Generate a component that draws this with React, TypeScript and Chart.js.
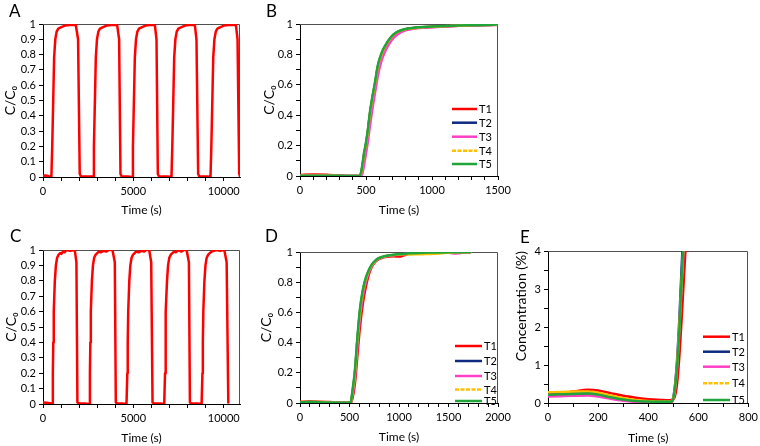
import React, { useEffect, useRef } from 'react';
import { Chart, registerables } from 'chart.js';

Chart.register(...registerables);

const FONT = 'Lato, "Open Sans", "DejaVu Sans", sans-serif';
Chart.defaults.font.family = FONT;

const SERIES_NAMES = ['T1', 'T2', 'T3', 'T4', 'T5'];
const SERIES_COLORS = ['#FF0000', '#0D2A80', '#FF40C4', '#FFC000', '#1FA53A'];
const SERIES_DASH: number[][] = [[], [], [], [4, 1.5], []];

// ---------- Panel A (cycles, T1 only) ----------
const A_TIME = [
  0, 150, 300, 420,
  464, 510, 565, 615, 680, 755, 845, 1015, 1215, 1500, 1812, 1941, 2033, 2100, 2400, 2700,
  2771, 2817, 2872, 2922, 2987, 3062, 3152, 3322, 3522, 3800, 4101, 4212, 4287, 4350, 4700,
  4930, 4976, 5031, 5081, 5146, 5221, 5311, 5481, 5681, 5900, 6188, 6280, 6354, 6420, 6900,
  7108, 7154, 7209, 7259, 7324, 7399, 7489, 7659, 7859, 8100, 8400, 8492, 8585, 8650, 9100,
  9268, 9314, 9369, 9419, 9484, 9559, 9649, 9819, 10019, 10300, 10672, 10764, 10856, 10900,
];
const A_VALUE = [
  0.008, 0.01, 0.006, 0.002,
  0, 0.2, 0.5, 0.78, 0.9, 0.95, 0.97, 0.98, 0.99, 0.993, 0.995, 0.9, 0.02, 0.004, 0.004, 0.004,
  0, 0.2, 0.5, 0.78, 0.9, 0.95, 0.97, 0.98, 0.99, 0.993, 0.995, 0.9, 0.02, 0.004, 0.004,
  0, 0.2, 0.5, 0.78, 0.9, 0.95, 0.97, 0.98, 0.99, 0.993, 0.995, 0.9, 0.02, 0.004, 0.004,
  0, 0.2, 0.5, 0.78, 0.9, 0.95, 0.97, 0.98, 0.99, 0.993, 0.995, 0.9, 0.02, 0.004, 0.004,
  0, 0.2, 0.5, 0.78, 0.9, 0.95, 0.97, 0.98, 0.99, 0.993, 0.995, 0.9, 0.02, 0.004,
];

// ---------- Panel C (cycles, T1 only) ----------
const C_TIME = [
  0, 200, 400,
  500, 545, 568, 595, 655, 713, 780, 865, 950, 1020, 1100, 1200, 1300, 1500, 1757, 1849, 1904, 2000, 2300,
  2551, 2596, 2619, 2646, 2706, 2764, 2831, 2916, 3000, 3100, 3200, 3350, 3500, 3650, 3844, 3973, 4029, 4100, 4400,
  4620, 4665, 4688, 4715, 4775, 4833, 4900, 4985, 5070, 5150, 5300, 5450, 5600, 5700, 5876, 5987, 6061, 6150, 6500,
  6707, 6752, 6775, 6802, 6862, 6920, 6987, 7072, 7160, 7250, 7350, 7500, 7650, 7800, 7944, 8073, 8129, 8200, 8550,
  8776, 8821, 8844, 8871, 8931, 8989, 9056, 9141, 9230, 9320, 9450, 9600, 9800, 10032, 10161, 10253,
];
const C_VALUE = [
  0.01, 0.008, 0.005,
  0, 0.2, 0.4, 0.6, 0.8, 0.9, 0.95, 0.97, 0.98, 0.975, 0.99, 0.985, 1.0, 0.995, 1.0, 0.92, 0.01, 0.004, 0.004,
  0, 0.2, 0.4, 0.6, 0.8, 0.9, 0.95, 0.97, 0.98, 0.99, 0.985, 0.995, 0.99, 1.0, 1.0, 0.92, 0.01, 0.004, 0.004,
  0, 0.2, 0.4, 0.6, 0.8, 0.9, 0.95, 0.97, 0.98, 0.99, 0.985, 0.995, 0.99, 1.0, 1.0, 0.92, 0.01, 0.004, 0.004,
  0, 0.2, 0.4, 0.6, 0.8, 0.9, 0.95, 0.97, 0.98, 0.99, 0.985, 1.0, 0.99, 1.0, 1.0, 0.92, 0.01, 0.004, 0.004,
  0, 0.2, 0.4, 0.6, 0.8, 0.9, 0.95, 0.97, 0.98, 0.99, 0.995, 1.0, 0.995, 1.0, 0.92, 0.01,
];

// ---------- Panel B ----------
const B_TIME = [0, 100, 200, 300, 400, 454, 470, 485, 500, 515, 530, 550, 567, 590, 618, 650, 680, 710, 744, 790, 832, 900, 1000, 1100, 1200, 1300, 1400, 1500];
const B_T1 = [0.006, 0.01, 0.008, 0.003, 0, 0, 0.04, 0.13, 0.2, 0.29, 0.4, 0.51, 0.59, 0.71, 0.79, 0.855, 0.895, 0.925, 0.948, 0.962, 0.97, 0.976, 0.981, 0.985, 0.989, 0.991, 0.993, 0.995];
const B_T2 = [0.002, 0.003, 0.003, 0.001, 0, 0, 0.05, 0.14, 0.21, 0.3, 0.41, 0.52, 0.6, 0.72, 0.8, 0.86, 0.9, 0.93, 0.95, 0.963, 0.97, 0.977, 0.982, 0.986, 0.989, 0.992, 0.994, 0.995];
const B_T3 = [0.003, 0.004, 0.004, 0.002, 0, 0, 0.01, 0.07, 0.15, 0.23, 0.33, 0.45, 0.54, 0.66, 0.76, 0.83, 0.875, 0.91, 0.935, 0.955, 0.964, 0.973, 0.979, 0.984, 0.988, 0.991, 0.993, 0.995];
const B_T4 = [0.002, 0.002, 0.002, 0.001, 0, 0, 0.05, 0.14, 0.21, 0.3, 0.41, 0.52, 0.6, 0.72, 0.8, 0.86, 0.9, 0.93, 0.95, 0.963, 0.97, 0.977, 0.982, 0.986, 0.989, 0.992, 0.994, 0.995];
const B_T5 = [0.002, 0.002, 0.002, 0.001, 0, 0, 0.06, 0.15, 0.22, 0.31, 0.42, 0.53, 0.61, 0.73, 0.81, 0.865, 0.905, 0.933, 0.952, 0.965, 0.972, 0.978, 0.983, 0.987, 0.99, 0.992, 0.994, 0.996];

// ---------- Panel D ----------
const D_TIME = [0, 100, 200, 300, 400, 500, 511, 530, 555, 578, 605, 635, 665, 695, 723, 760, 790, 830, 874, 941, 1000, 1050, 1109, 1200, 1300, 1400, 1500, 1550, 1600, 1650, 1720];
const D_T1 = [0.008, 0.01, 0.009, 0.006, 0.003, 0.001, 0, 0.03, 0.13, 0.3, 0.5, 0.66, 0.77, 0.85, 0.9, 0.935, 0.95, 0.962, 0.968, 0.972, 0.97, 0.978, 0.99, 0.997, 0.998, 0.998, 0.999, 0.999, 0.999, 0.999, 1.0];
const D_T2 = [0.005, 0.006, 0.005, 0.003, 0.002, 0.001, 0, 0.07, 0.2, 0.4, 0.6, 0.74, 0.82, 0.875, 0.91, 0.94, 0.955, 0.966, 0.973, 0.98, 0.984, 0.988, 0.99, 0.994, 0.996, 0.997, 0.998, 0.997, 0.996, 0.998, 0.999];
const D_T3 = [0.004, 0.005, 0.004, 0.003, 0.002, 0.001, 0, 0.05, 0.17, 0.36, 0.56, 0.71, 0.8, 0.865, 0.905, 0.938, 0.953, 0.965, 0.972, 0.978, 0.982, 0.986, 0.99, 0.993, 0.995, 0.996, 0.995, 0.99, 0.992, 0.996, 0.998];
const D_T4 = [0.006, 0.007, 0.006, 0.004, 0.002, 0.001, 0, 0.07, 0.2, 0.4, 0.6, 0.74, 0.82, 0.875, 0.91, 0.94, 0.955, 0.966, 0.973, 0.98, 0.983, 0.985, 0.984, 0.985, 0.987, 0.99, 0.995, 0.997, 0.998, 0.998, 0.999];
const D_T5 = [0.005, 0.006, 0.005, 0.003, 0.002, 0.001, 0, 0.08, 0.22, 0.42, 0.62, 0.75, 0.83, 0.88, 0.915, 0.943, 0.958, 0.968, 0.975, 0.981, 0.985, 0.988, 0.991, 0.994, 0.996, 0.997, 0.998, 0.998, 0.998, 0.999, 1.0];

// ---------- Panel E ----------
const E_TIME = [0, 50, 100, 160, 200, 250, 300, 350, 400, 450, 480, 495, 505, 515, 525, 535, 545, 555];
const E_T1 = [0.22, 0.25, 0.3, 0.35, 0.33, 0.26, 0.19, 0.14, 0.1, 0.08, 0.07, 0.08, 0.15, 0.5, 1.3, 2.4, 3.6, 4.8];
const E_T2 = [0.2, 0.21, 0.23, 0.25, 0.22, 0.16, 0.1, 0.06, 0.04, 0.03, 0.03, 0.06, 0.35, 1.1, 2.3, 3.8, 5.0, 6.0];
const E_T3 = [0.17, 0.18, 0.19, 0.2, 0.17, 0.11, 0.06, 0.03, 0.02, 0.01, 0.01, 0.03, 0.25, 0.9, 2.0, 3.3, 4.5, 5.5];
const E_T4 = [0.28, 0.29, 0.3, 0.3, 0.27, 0.2, 0.13, 0.08, 0.05, 0.04, 0.04, 0.06, 0.3, 1.0, 2.1, 3.4, 4.6, 5.5];
const E_T5 = [0.22, 0.23, 0.24, 0.25, 0.22, 0.15, 0.09, 0.05, 0.04, 0.03, 0.03, 0.05, 0.3, 0.95, 2.0, 3.5, 4.6, 5.5];

// ---------- Axis tick labels ----------
const CYCLE_X_LABELS = [0, 5000, 10000];
const CYCLE_Y_LABELS = [0, 0.1, 0.2, 0.3, 0.4, 0.5, 0.6, 0.7, 0.8, 0.9, 1];
const B_X_LABELS = [0, 500, 1000, 1500];
const D_X_LABELS = [0, 500, 1000, 1500, 2000];
const E_X_LABELS = [0, 200, 400, 600, 800];
const FRAC_Y_LABELS = [0, 0.2, 0.4, 0.6, 0.8, 1];
const E_Y_LABELS = [0, 1, 2, 3, 4];

interface AxisCfg { min: number; max: number; step: number; tickEnd: number; labels: number[] }
interface PanelCfg {
  letter: string; letterPos: [number, number];
  plot: { l: number; t: number; r: number; b: number };
  yW: number; xH: number; padR: number;
  x: AxisCfg; y: AxisCfg; yTitle: string; yTitleAlign: 'center' | 'end';
  time: number[]; series: number[][]; seriesIdx: number[];
  smooth: boolean;
  legend?: { x1: number; x2: number; ys: number[] };
}

const PAD_T = 12;

const PANELS: PanelCfg[] = [
  {
    letter: 'A', letterPos: [9, 2], plot: { l: 43, t: 24, r: 240, b: 177 }, yW: 41, xH: 40, padR: 20,
    x: { min: 0, max: 10900, step: 1000, tickEnd: 10000, labels: CYCLE_X_LABELS },
    y: { min: 0, max: 1, step: 0.1, tickEnd: 1, labels: CYCLE_Y_LABELS }, yTitle: 'C/C₀', yTitleAlign: 'center',
    time: A_TIME, series: [A_VALUE], seriesIdx: [0], smooth: false,
  },
  {
    letter: 'B', letterPos: [266, 2], plot: { l: 300, t: 24, r: 498, b: 176 }, yW: 39, xH: 41, padR: 20,
    x: { min: 0, max: 1500, step: 100, tickEnd: 1500, labels: B_X_LABELS },
    y: { min: 0, max: 1, step: 0.1, tickEnd: 1, labels: FRAC_Y_LABELS }, yTitle: 'C/C₀', yTitleAlign: 'center',
    time: B_TIME, series: [B_T1, B_T2, B_T3, B_T4, B_T5], seriesIdx: [0, 1, 2, 3, 4], smooth: true,
    legend: { x1: 452, x2: 477, ys: [109, 122.7, 136.7, 150.7, 164] },
  },
  {
    letter: 'C', letterPos: [10, 227], plot: { l: 43, t: 250, r: 240, b: 404 }, yW: 40, xH: 41, padR: 20,
    x: { min: 0, max: 10900, step: 1000, tickEnd: 10000, labels: CYCLE_X_LABELS },
    y: { min: 0, max: 1, step: 0.1, tickEnd: 1, labels: CYCLE_Y_LABELS }, yTitle: 'C/C₀', yTitleAlign: 'center',
    time: C_TIME, series: [C_VALUE], seriesIdx: [0], smooth: false,
  },
  {
    letter: 'D', letterPos: [265, 227], plot: { l: 300, t: 252, r: 498, b: 403 }, yW: 42, xH: 41, padR: 20,
    x: { min: 0, max: 2000, step: 100, tickEnd: 2000, labels: D_X_LABELS },
    y: { min: 0, max: 1, step: 0.1, tickEnd: 1, labels: FRAC_Y_LABELS }, yTitle: 'C/C₀', yTitleAlign: 'center',
    time: D_TIME, series: [D_T1, D_T2, D_T3, D_T4, D_T5], seriesIdx: [0, 1, 2, 3, 4], smooth: true,
    legend: { x1: 455, x2: 482, ys: [346, 361, 376, 389.5, 401] },
  },
  {
    letter: 'E', letterPos: [520, 228], plot: { l: 548, t: 251, r: 750, b: 403 }, yW: 35, xH: 42, padR: 12,
    x: { min: 0, max: 800, step: 100, tickEnd: 800, labels: E_X_LABELS },
    y: { min: 0, max: 4, step: 0.5, tickEnd: 4, labels: E_Y_LABELS }, yTitle: 'Concentration (%)', yTitleAlign: 'end',
    time: E_TIME, series: [E_T1, E_T2, E_T3, E_T4, E_T5], seriesIdx: [0, 1, 2, 3, 4], smooth: true,
    legend: { x1: 703, x2: 730, ys: [336.7, 351.7, 366.7, 383.3, 400] },
  },
];

function tickValues(a: AxisCfg): number[] {
  const out: number[] = [];
  const n = Math.round((a.tickEnd - a.min) / a.step);
  for (let i = 0; i <= n; i++) out.push(+(a.min + i * a.step).toFixed(6));
  return out;
}

function labelFor(a: AxisCfg, v: number): string {
  const hit = a.labels.find((l) => Math.abs(l - v) < 1e-6);
  return hit === undefined ? '' : String(hit);
}

const framePlugin = {
  id: 'frame',
  beforeDatasetsDraw(chart: any) {
    const { ctx, chartArea } = chart;
    const l = Math.round(chartArea.left);
    const t = Math.round(chartArea.top) + 0.5;
    const r = Math.round(chartArea.right) - 0.5;
    const b = Math.round(chartArea.bottom);
    ctx.save();
    ctx.strokeStyle = '#505050';
    ctx.lineWidth = 1;
    ctx.beginPath();
    ctx.moveTo(l, t);
    ctx.lineTo(r, t);
    ctx.lineTo(r, b);
    ctx.stroke();
    ctx.restore();
  },
};

const inlineLegendPlugin = {
  id: 'inlineLegend',
  afterDatasetsDraw(chart: any, _args: any, opts: any) {
    if (!opts || !opts.items) return;
    const { ctx } = chart;
    ctx.save();
    opts.items.forEach((it: any) => {
      ctx.strokeStyle = it.color;
      ctx.lineWidth = 2.5;
      ctx.setLineDash(it.dash || []);
      ctx.beginPath();
      ctx.moveTo(it.x1, it.y);
      ctx.lineTo(it.x2, it.y);
      ctx.stroke();
      ctx.setLineDash([]);
      ctx.fillStyle = '#000';
      ctx.font = `11px ${FONT}`;
      ctx.textBaseline = 'middle';
      ctx.textAlign = 'left';
      ctx.fillText(it.text, it.x2 + 2, it.y + 0.5);
    });
    ctx.restore();
  },
};

function geometry(cfg: PanelCfg) {
  const left = cfg.plot.l - cfg.yW;
  const top = cfg.plot.t - PAD_T;
  const width = cfg.yW + (cfg.plot.r - cfg.plot.l) + cfg.padR;
  const height = PAD_T + (cfg.plot.b - cfg.plot.t) + cfg.xH;
  return { left, top, width, height };
}

function Panel({ cfg }: { cfg: PanelCfg }) {
  const ref = useRef<HTMLCanvasElement>(null);
  const g = geometry(cfg);

  useEffect(() => {
    if (!ref.current) return;
    const datasets = cfg.series.map((vals, k) => {
      const si = cfg.seriesIdx[k];
      return {
        label: SERIES_NAMES[si],
        data: cfg.time.map((t, i) => ({ x: t, y: vals[i] })),
        borderColor: SERIES_COLORS[si],
        backgroundColor: SERIES_COLORS[si],
        borderWidth: 2.5,
        borderDash: SERIES_DASH[si],
        borderJoinStyle: 'round',
        borderCapStyle: 'round',
        pointRadius: 0,
        fill: false,
        tension: cfg.smooth ? 0.4 : 0,
        cubicInterpolationMode: cfg.smooth ? 'monotone' : 'default',
        order: cfg.series.length - 1 - k,
      };
    });
    const legendItems = cfg.legend
      ? cfg.seriesIdx.map((si, k) => ({
          x1: cfg.legend!.x1 - g.left,
          x2: cfg.legend!.x2 - g.left,
          y: cfg.legend!.ys[k] - g.top,
          color: SERIES_COLORS[si],
          dash: SERIES_DASH[si],
          text: SERIES_NAMES[si],
        }))
      : null;

    const axisCommon = (a: AxisCfg, isX: boolean) => ({
      type: 'linear' as const,
      min: a.min,
      max: a.max,
      afterBuildTicks: (scale: any) => {
        scale.ticks = tickValues(a).map((v) => ({ value: v }));
      },
      afterFit: (scale: any) => {
        if (isX) scale.height = cfg.xH;
        else scale.width = cfg.yW;
      },
      ticks: {
        autoSkip: false,
        maxRotation: 0,
        minRotation: 0,
        padding: isX ? 4 : 3,
        color: '#000',
        font: { family: FONT, size: 11 },
        callback: (v: any) => labelFor(a, Number(v)),
      },
      grid: {
        display: true,
        drawOnChartArea: false,
        drawTicks: true,
        tickLength: 4,
        tickColor: '#000',
        tickWidth: 1,
      },
      border: { display: true, color: '#000', width: 1 },
      title: {
        display: true,
        text: isX ? 'Time (s)' : cfg.yTitle,
        color: '#000',
        padding: 0,
        align: isX ? 'center' : cfg.yTitleAlign,
        font: { family: FONT, size: isX ? 12 : 14 },
      },
    });

    const chart = new Chart(ref.current, {
      type: 'line',
      data: { datasets: datasets as any },
      options: {
        animation: false,
        responsive: false,
        maintainAspectRatio: false,
        layout: { padding: { left: 0, top: PAD_T, right: cfg.padR, bottom: 0 } },
        plugins: {
          legend: { display: false },
          tooltip: { enabled: false },
          inlineLegend: legendItems ? { items: legendItems } : { items: null },
        } as any,
        scales: {
          x: axisCommon(cfg.x, true) as any,
          y: axisCommon(cfg.y, false) as any,
        },
      },
      plugins: [framePlugin, inlineLegendPlugin],
    });
    return () => chart.destroy();
  }, []);

  return (
    <>
      <div style={{ position: 'absolute', left: g.left, top: g.top, width: g.width, height: g.height }}>
        <canvas ref={ref} width={g.width} height={g.height} style={{ width: g.width, height: g.height, display: 'block' }} />
      </div>
      <div
        style={{
          position: 'absolute',
          left: cfg.letterPos[0],
          top: cfg.letterPos[1],
          fontFamily: FONT,
          fontSize: 17,
          lineHeight: '17px',
          color: '#000',
        }}
      >
        {cfg.letter}
      </div>
    </>
  );
}

export default function App() {
  return (
    <div
      style={{
        position: 'absolute',
        left: 0,
        top: 0,
        width: 760,
        height: 446,
        overflow: 'hidden',
        background: '#fff',
      }}
    >
      {PANELS.map((p) => (
        <Panel key={p.letter} cfg={p} />
      ))}
    </div>
  );
}
